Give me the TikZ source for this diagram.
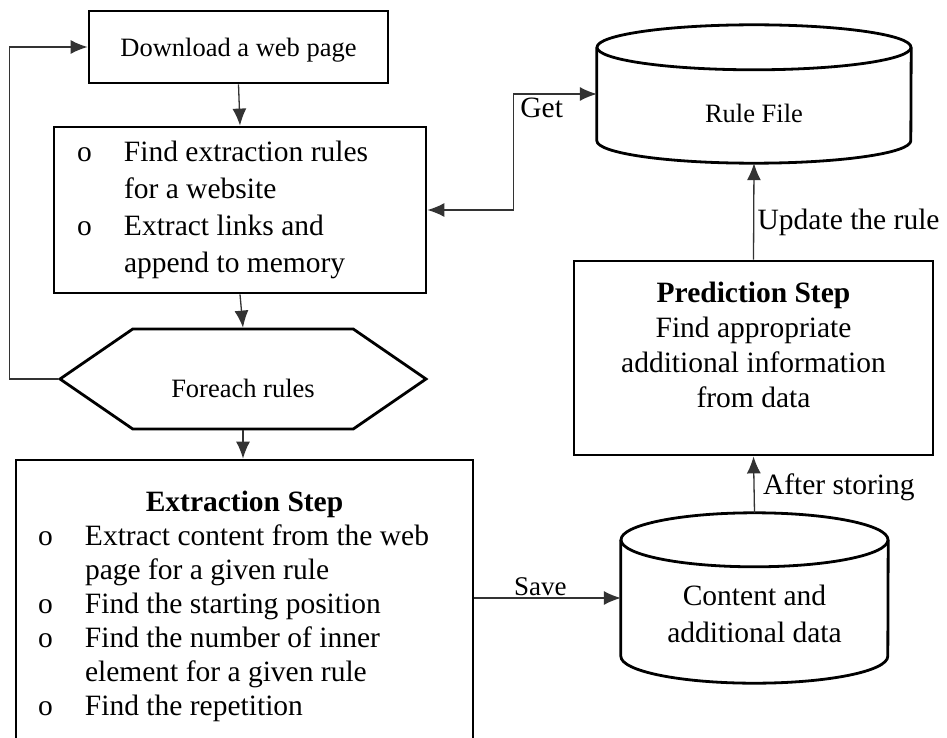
\documentclass[tikz,border=0pt]{standalone}
\usepackage{fontspec}
\setmainfont{Liberation Serif}
\usetikzlibrary{arrows.meta,shapes.symbols}
\newcommand{\bigtxt}{\fontsize{29.5}{37}\selectfont}
\newcommand{\smalltxt}{\fontsize{26.5}{32}\selectfont}
% outline of a storage cylinder around a named node: #1 name, #2 x radius, #3 y radius
\newcommand{\drawstore}[3]{%
  \draw[line width=2.8pt] ([yshift=-#3]#1.north west) -- ([yshift=#3]#1.south west)
    arc[start angle=180,end angle=360,x radius=#2,y radius=#3]
    -- ([yshift=-#3]#1.north east);
  \draw[line width=2.8pt] ([yshift=-#3]#1.north) ellipse[x radius=#2,y radius=#3];}
\begin{document}
\begin{tikzpicture}[x=1pt,y=-1pt,
    >={Latex[length=17pt,width=14pt]},
    font=\bigtxt,
    stepbox/.style={draw,line width=2.8pt,rectangle,inner sep=0pt},
    store/.style={rectangle,inner sep=0pt,text depth=0pt},
    link/.style={line width=1.3pt,black!80}]
  \clip (0,0) rectangle (947,738);
  % left column
  \node (download) [stepbox,minimum width=299pt,minimum height=72pt,font=\smalltxt,text depth=0pt] at (238.5,47) {Download a web page};
  \node (rules) [stepbox,minimum width=372pt,minimum height=166pt] at (240,210)
    {\begin{tabular}{@{}p{47pt}@{}p{279pt}@{}}
      o & Find extraction rules\\
        & for a website\\
      o & Extract links and\\
        & append to memory
    \end{tabular}};
  \node (foreach) [draw,line width=2.8pt,signal,signal to=east and west,signal pointer angle=69,
    minimum width=366pt,minimum height=100pt,inner sep=0pt,font=\smalltxt,text height=36pt,text depth=0pt] at (243,379) {Foreach rules};
  \node (extract) [stepbox,minimum width=457pt,minimum height=294pt] at (244.5,607)
    {\fontsize{29.5}{34}\selectfont
     \begin{tabular}{@{}p{47pt}@{}p{366pt}@{}}
      \multicolumn{2}{@{}c@{}}{\textbf{Extraction Step}}\\
      o & Extract content from the web\\
        & page for a given rule\\
      o & Find the starting position\\
      o & Find the number of inner\\
        & element for a given rule\\
      o & Find the repetition
     \end{tabular}};
  % right column
  \node (rulefile) [store,minimum width=314pt,minimum height=138pt,font=\smalltxt,text height=58pt] at (754,94) {Rule File};
  \drawstore{rulefile}{157pt}{22.5pt}
  \node (predict) [stepbox,minimum width=359pt,minimum height=194pt] at (753.5,358)
    {\fontsize{29.5}{35}\selectfont
     \begin{tabular}{@{}c@{}}
      \textbf{Prediction Step}\\
      Find appropriate\\
      additional information\\
      from data\\[21pt]
     \end{tabular}};
  \node (content) [store,minimum width=267pt,minimum height=170pt,text height=14pt] at (754.5,598)
    {\begin{tabular}[t]{@{}c@{}}
      Content and\\
      additional data
     \end{tabular}};
  \drawstore{content}{133.5pt}{27pt}
  % connectors
  \draw[link,->] (download.south) -- (rules.north);
  \draw[link,->] (rules.south) -- (foreach.north);
  \draw[link,->] (foreach.south) -- (foreach.south |- extract.north);
  \draw[link,->] (foreach.west) -- ++(-48,0) |- (download.west);
  \draw[link,<->] (rules.east) -- ++(86,0) |- (rulefile.west) node[pos=0.5,anchor=north west,xshift=3pt,black] (getlbl) {Get};
  \draw[link,->] (extract.east |- content.west) -- (content.west) node[pos=0.45,above=-2pt,black,font=\fontsize{27}{32}\selectfont] (savelbl) {Save};
  \draw[link,->] (content.north) -- (predict.south) node[pos=0.45,right,xshift=5pt,black] (storelbl) {After storing};
  \draw[link,->] (predict.north) -- (rulefile.south) node[pos=0.39,right,black] (updlbl) {Update the rule};
\end{tikzpicture}
\end{document}
